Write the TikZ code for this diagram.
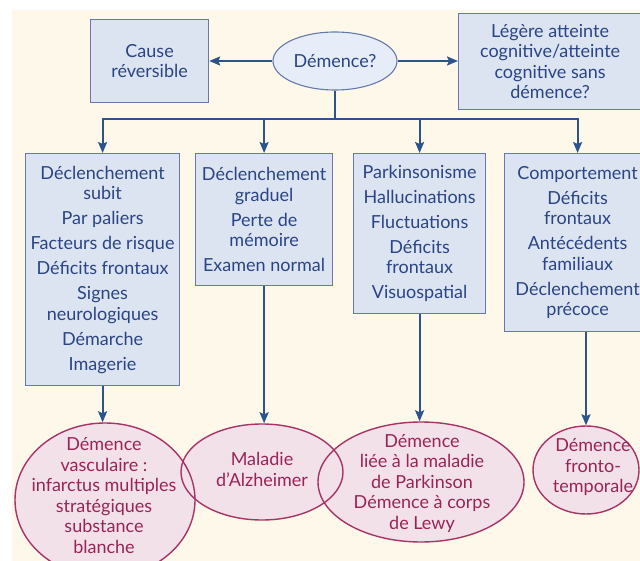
\documentclass[tikz,border=0pt]{standalone}
\usepackage{fontspec}
\setmainfont{Lato}
\usetikzlibrary{shapes.geometric,arrows.meta}
\definecolor{cream}{HTML}{FEF8EA}
\definecolor{boxfill}{HTML}{DCE3F1}
\definecolor{boxline}{HTML}{6579AA}
\definecolor{bluetext}{HTML}{2A4585}
\definecolor{arrowblue}{HTML}{2B548F}
\definecolor{ellfill}{HTML}{E6EDF8}
\definecolor{pinkfill}{HTML}{F3E1EA}
\definecolor{pinkline}{HTML}{A63466}
\definecolor{pinktext}{HTML}{9A2455}
\tikzset{
  txt/.style={font=\fontsize{18}{20.5}\selectfont, align=center, inner sep=0pt},
  bluebox/.style={txt, rectangle, draw=boxline, line width=1.2pt, fill=boxfill, text=bluetext, anchor=north west},
  topell/.style={txt, ellipse, draw=boxline, line width=1.1pt, fill=ellfill, text=bluetext, minimum width=124pt, minimum height=58pt},
  pinkring/.style={ellipse, draw=pinkline, line width=1.4pt, inner sep=0pt},
  pinktxt/.style={txt, text=pinktext},
  conn/.style={draw=arrowblue, line width=2pt},
  arr/.style={conn, -{Stealth[length=11pt,width=9pt,inset=2pt]}},
}
\begin{document}
\begin{tikzpicture}[x=1pt,y=-1pt]
\useasboundingbox (0,0) rectangle (640,561);
\fill[cream] (12,10) rectangle (640,561);

% top row
\node[topell] (dem) at (335,61) {Démence?};
\node[bluebox, minimum width=118pt, minimum height=83pt] (cause) at (90,19) {Cause\\réversible};
\node[bluebox, minimum width=183pt, minimum height=96pt] (mci) at (458,13) {Légère atteinte\\cognitive/atteinte\\cognitive sans\\démence?};

% middle boxes
\node[bluebox, minimum width=154pt, minimum height=232pt] (b1) at (25,153)
  {Déclenchement\\subit\\[4.5pt]Par paliers\\[4.5pt]Facteurs de risque\\[4.5pt]Déficits frontaux\\[4.5pt]Signes\\neurologiques\\[4.5pt]Démarche\\[4.5pt]Imagerie};
\node[bluebox, minimum width=137pt, minimum height=132pt] (b2) at (195,153)
  {Déclenchement\\graduel\\[4.5pt]Perte de\\mémoire\\[4.5pt]Examen normal};
\node[bluebox, minimum width=132pt, minimum height=160pt] (b3) at (353,153)
  {Parkinsonisme\\[4.5pt]Hallucinations\\[4.5pt]Fluctuations\\[4.5pt]Déficits\\frontaux\\[4.5pt]Visuospatial};
\node[bluebox, minimum width=146pt, minimum height=178pt] (b4) at (504,153)
  {Comportement\\[4.5pt]Déficits\\frontaux\\[4.5pt]Antécédents\\familiaux\\[4.5pt]Déclenchement\\précoce};

% bottom ellipses: fills first, then outlines
\fill[pinkfill] (105,500) ellipse [x radius=90pt, y radius=77pt];
\fill[pinkfill] (262,472) ellipse [x radius=81pt, y radius=48pt];
\fill[pinkfill] (421,482) ellipse [x radius=103pt, y radius=60pt];
\fill[pinkfill] (586,470) ellipse [x radius=53pt, y radius=44pt];
\node[pinkring, minimum width=180pt, minimum height=154pt] (e1) at (105,500) {};
\node[pinkring, minimum width=162pt, minimum height=96pt] (e2) at (262,472) {};
\node[pinkring, minimum width=206pt, minimum height=120pt] (e3) at (421,482) {};
\node[pinkring, minimum width=106pt, minimum height=88pt] (e4) at (586,470) {};
\node[pinktxt] (t1) at (104,495.5) {Démence\\vasculaire :\\infarctus multiples\\stratégiques\\substance\\blanche};
\node[pinktxt] (t2) at (262,469.5) {Maladie\\d’Alzheimer};
\node[pinktxt] (t3) at (422,483.5) {Démence\\liée à la maladie\\de Parkinson\\Démence à corps\\de Lewy};
\node[pinktxt] (t4) at (593,467.5) {Démence\\fronto-\\temporale};

% connectors
\draw[arr] (dem.west) -- (cause.east |- dem.west);
\draw[arr] (dem.east) -- (mci.west |- dem.east);
\coordinate (j) at (335,119);
\draw[conn] (dem.south) -- (j);
\draw[conn, line cap=rect] (j -| b1.north) -- (j -| b4.north);
\draw[arr] (j -| b1.north) -- (b1.north);
\draw[arr] (j -| b2.north) -- (b2.north);
\draw[arr] (j -| b3.north) -- (b3.north);
\draw[arr] (j -| b4.north) -- (b4.north);
\draw[arr] (b1.south) -- (b1.south |- e1.north);
\draw[arr] (b2.south) -- (b2.south |- e2.north);
\draw[arr] (b3.south) -- (b3.south |- e3.north);
\draw[arr] (b4.south -| e4.north) -- (e4.north);
\end{tikzpicture}
\end{document}
